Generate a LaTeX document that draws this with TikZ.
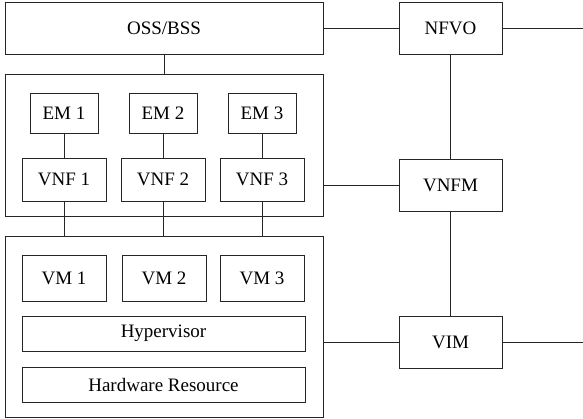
\documentclass[tikz,border=0pt]{standalone}
\usepackage{fontspec}
\setmainfont{Liberation Serif}
\begin{document}
\begin{tikzpicture}[x=1pt,y=-1pt,
  box/.style={draw=black!85,line width=0.8pt,inner sep=0pt,font=\fontsize{19}{22}\selectfont},
  conn/.style={draw=black!85,line width=0.8pt}]
\useasboundingbox (0,0) rectangle (583,418);
% top
\node[box,minimum width=318,minimum height=52] (oss) at (164,28) {OSS/BSS};
\node[box,minimum width=103,minimum height=52] (nfvo) at (450.5,28) {NFVO};
% middle container
\node[box,minimum width=318,minimum height=142] (midc) at (164,145) {};
\node[box,minimum width=68,minimum height=40] (em1) at (64,113) {EM 1};
\node[box,minimum width=68,minimum height=40] (em2) at (163,113) {EM 2};
\node[box,minimum width=68,minimum height=40] (em3) at (262,113) {EM 3};
\node[box,minimum width=84,minimum height=43] (vnf1) at (64,179.5) {VNF 1};
\node[box,minimum width=84,minimum height=43] (vnf2) at (163,179.5) {VNF 2};
\node[box,minimum width=84,minimum height=43] (vnf3) at (262,179.5) {VNF 3};
\node[box,minimum width=103,minimum height=52] (vnfm) at (450.5,185) {VNFM};
% lower container
\node[box,minimum width=318,minimum height=181] (lowc) at (164,326.5) {};
\node[box,minimum width=84,minimum height=46] (vm1) at (64,278) {VM 1};
\node[box,minimum width=84,minimum height=46] (vm2) at (164,278) {VM 2};
\node[box,minimum width=84,minimum height=46] (vm3) at (262,278) {VM 3};
\node[box,minimum width=283,minimum height=35] (hyp) at (163.5,333.5) {Hypervisor};
\node[box,minimum width=283,minimum height=35] (hw) at (163.5,384.5) {Hardware Resource};
\node[box,minimum width=103,minimum height=52] (vim) at (450.5,342) {VIM};
\coordinate (nfvoout) at (583,28);
\coordinate (vimout) at (583,342);
% connectors
\draw[conn] (oss.east) -- (nfvo.west);
\draw[conn] (nfvo.east) -- (nfvoout);
\draw[conn] (oss.south) -- (midc.north);
\foreach \i in {1,2,3}{
  \draw[conn] (em\i.south) -- (vnf\i.north);
  \draw[conn] (vnf\i.south) -- (vnf\i.south |- lowc.north);
}
\draw[conn] (midc.east |- vnfm.west) -- (vnfm.west);
\draw[conn] (nfvo.south) -- (vnfm.north);
\draw[conn] (vnfm.south) -- (vim.north);
\draw[conn] (lowc.east |- vim.west) -- (vim.west);
\draw[conn] (vim.east) -- (vimout);
\end{tikzpicture}
\end{document}
